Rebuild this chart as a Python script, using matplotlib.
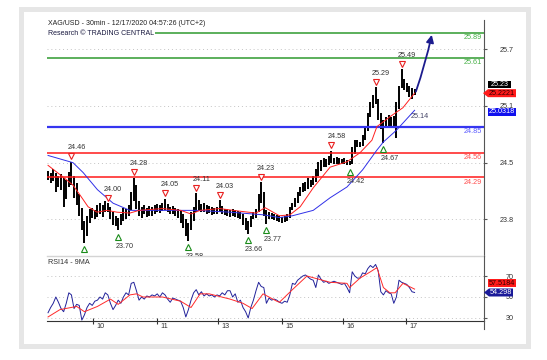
import matplotlib
matplotlib.use('Agg')
import matplotlib.pyplot as plt
from matplotlib.patches import Rectangle, Polygon
from matplotlib.lines import Line2D

plt.rcParams['font.family'] = ['Liberation Sans', 'DejaVu Sans']

W, H = 547, 360

title_text = "XAG/USD - 30min - 12/17/2020 04:57:26 (UTC+2)"
source_text = "Research \u00a9 TRADING CENTRAL"
rsi_title = "RSI14 - 9MA"

# hourly high / low of XAG/USD
high = [24.36, 24.34, 24.38, 24.33, 24.30, 24.32, 24.28, 24.26, 24.35, 24.46,
        24.30, 24.22, 24.10, 23.95, 23.80, 23.86, 23.93, 23.95, 23.92, 23.98,
        24.00, 23.98, 24.02, 24.00, 23.96, 23.90, 23.86, 23.84, 23.88, 23.95,
        23.93, 23.98, 24.12, 24.28, 24.20, 24.02, 23.96, 23.98, 23.95, 23.97,
        23.96, 23.98, 23.99, 23.98, 24.00, 24.05, 23.99, 23.96, 23.97, 23.95,
        23.94, 23.92, 23.88, 23.82, 23.78, 23.90, 23.96, 24.11, 24.04, 23.99,
        24.00, 23.98, 23.97, 23.96, 23.95, 23.96, 24.03, 23.97, 23.94, 23.93,
        23.92, 23.93, 23.92, 23.91, 23.90, 23.88, 23.84, 23.80, 23.86, 23.90,
        23.94, 24.10, 24.23, 24.12, 23.92, 23.90, 23.89, 23.88, 23.87, 23.86,
        23.85, 23.86, 23.88, 23.96, 24.00, 24.06, 24.12, 24.18, 24.22, 24.24,
        24.28, 24.26, 24.30, 24.38, 24.46, 24.48, 24.50, 24.49, 24.52, 24.58,
        24.50, 24.51, 24.50, 24.49, 24.50, 24.48, 24.47, 24.62, 24.70, 24.70,
        24.68, 24.76, 24.86, 25.00, 25.12, 25.20, 25.29, 25.16, 25.00, 24.92,
        24.96, 24.98, 24.96, 24.97, 25.12, 25.30, 25.49, 25.38, 25.34, 25.30,
        25.28, 25.27]
low = [24.26, 24.22, 24.25, 24.12, 24.18, 24.15, 23.96, 24.05, 24.18, 24.20,
       24.06, 23.98, 23.86, 23.70, 23.56, 23.64, 23.78, 23.84, 23.82, 23.85,
       23.88, 23.85, 23.90, 23.90, 23.82, 23.76, 23.75, 23.70, 23.76, 23.80,
       23.82, 23.86, 23.92, 24.02, 23.94, 23.86, 23.84, 23.88, 23.85, 23.86,
       23.86, 23.88, 23.90, 23.89, 23.91, 23.92, 23.90, 23.88, 23.88, 23.86,
       23.84, 23.78, 23.72, 23.64, 23.58, 23.70, 23.80, 23.90, 23.92, 23.90,
       23.90, 23.88, 23.89, 23.87, 23.88, 23.88, 23.90, 23.88, 23.87, 23.86,
       23.85, 23.86, 23.85, 23.84, 23.82, 23.76, 23.70, 23.66, 23.74, 23.82,
       23.84, 23.90, 24.00, 23.86, 23.77, 23.82, 23.82, 23.81, 23.80, 23.79,
       23.78, 23.79, 23.80, 23.84, 23.92, 23.96, 24.00, 24.08, 24.12, 24.14,
       24.16, 24.18, 24.20, 24.24, 24.30, 24.36, 24.40, 24.40, 24.42, 24.45,
       24.44, 24.44, 24.44, 24.44, 24.43, 24.42, 24.42, 24.44, 24.55, 24.62,
       24.62, 24.64, 24.70, 24.80, 24.96, 25.06, 25.10, 24.92, 24.82, 24.67,
       24.84, 24.86, 24.85, 24.86, 24.72, 25.05, 25.28, 25.26, 25.24, 25.18,
       25.16, 25.20]
last_close = 25.23

red_ma_idx = [0, 5.8, 9.6, 12.3, 15.4, 18.8, 22.7, 26.5, 31.5, 35, 44, 51, 55, 58.5,
              66, 74, 80, 83.5, 89, 93, 97, 102, 108.5, 115, 120, 124.6, 126.5,
              131.5, 136.5, 141]
red_ma_val = [24.42, 24.29, 24.20, 24.09, 23.96, 23.90, 23.92, 23.90, 23.89, 23.92,
              23.94, 23.92, 23.88, 23.92, 23.94, 23.91, 23.89, 23.95, 23.86, 23.87,
              23.96, 24.17, 24.40, 24.46, 24.56, 24.70, 24.85, 24.96, 25.06, 25.2221]
blue_ma_idx = [0, 9.6, 13.5, 19, 25, 31.5, 44, 57, 70, 83, 89, 94, 102, 108.5, 115,
               121, 126.5, 129, 134, 141]
blue_ma_val = [24.53, 24.45, 24.34, 24.15, 24.00, 23.92, 23.92, 23.92, 23.90, 23.87,
               23.84, 23.86, 23.92, 24.06, 24.18, 24.37, 24.59, 24.68, 24.81, 25.0318]
trend_label = "25.14"

green_levels = [25.89, 25.61]
blue_levels = [24.85]
red_levels = [24.56, 24.29]

peak_idx = [9, 23, 33, 45, 57, 66, 82, 109, 126, 136]
peak_val = [24.46, 24.00, 24.28, 24.05, 24.11, 24.03, 24.23, 24.58, 25.29, 25.49]
trough_idx = [14, 27, 54, 77, 84, 116, 129]
trough_val = [23.56, 23.70, 23.58, 23.66, 23.77, 24.42, 24.67]
trough_show = [False, True, True, True, True, True, True]

target_from = (141.5, 25.24)
target_to = (147.6, 25.87)

price_ticks = [23.82, 24.45, 25.08, 25.71]
price_tick_labels = ['23.8', '24.5', '25.1', '25.7']

day_pos = [17.3, 41.9, 65.4, 90.0, 113.5, 137.7]
day_labels = ['10', '11', '13', '15', '16', '17']

rsi = [35, 40, 44, 50, 45, 39, 36, 44, 54, 52, 39, 43, 42, 28, 33, 40, 44, 42, 46, 47,
       50, 48, 54, 52, 44, 38, 42, 47, 44, 50, 54, 52, 63, 64, 56, 47, 50, 48, 51, 50,
       52, 51, 53, 50, 54, 52, 48, 45, 49, 48, 47, 46, 40, 31, 38, 47, 54, 57, 52, 55,
       51, 53, 51, 52, 50, 52, 51, 54, 52, 56, 56, 50, 53, 45, 47, 40, 36, 30, 40, 47,
       56, 64, 60, 59, 44, 49, 47, 48, 47, 45, 44, 46, 45, 52, 63, 62, 66, 68, 70, 71,
       69, 67, 66, 59, 71, 67, 64, 65, 63, 64, 65, 64, 63, 62, 63, 59, 54, 74, 70, 68,
       68, 73, 72, 77, 80, 78, 81, 75, 55, 52, 56, 54, 53, 44, 50, 66, 64, 63, 62, 59,
       55, 54.298]
rsi_ma_idx = [0, 4.6, 11, 14, 19, 24, 27, 31.5, 34, 36.5, 44, 51, 55, 58.5, 62, 70,
              75, 78.5, 82.7, 88, 89, 94, 99.6, 108.5, 115, 116, 120, 124, 126.5, 129,
              131.5, 133.5, 136.5, 141]
rsi_ma_val = [31, 38, 41, 36, 41, 48, 43, 52, 53, 50, 50, 46, 40, 53, 53, 48, 44, 39,
              53, 46, 45, 57, 70, 64, 63, 59, 68, 74, 78, 59, 54, 54, 63, 57.5184]
rsi_ticks = [30, 50, 70]

TXT = '#333333'
FS = 5.2

fig = plt.figure(figsize=(W / 100, H / 100), dpi=100)
fig.patch.set_facecolor('white')


def fr(x0, y0, x1, y1):
    return [x0 / W, 1 - y1 / H, (x1 - x0) / W, (y1 - y0) / H]


# outer grey frame
fig.patches.append(Rectangle((20.5 / W, 1 - 345.5 / H), 507 / W, 337 / H,
                             transform=fig.transFigure, fill=False,
                             edgecolor='#e6e6e6', lw=3.6, zorder=0))

ax = fig.add_axes(fr(47, 20, 484, 256))
rs = fig.add_axes(fr(47, 256, 484, 321))
for a in (ax, rs):
    a.set_xlim(-0.4, 167.7)
    a.set_facecolor('none')
    a.spines['top'].set_visible(False)
    a.spines['left'].set_visible(False)
    a.spines['right'].set_color('#555555')
    a.spines['right'].set_linewidth(0.8)
    a.yaxis.tick_right()
    a.tick_params(axis='y', length=2.2, width=0.8, colors='#555555',
                  labelcolor=TXT, labelsize=FS, pad=19.5)
ax.spines['bottom'].set_color('#d4d4d4')
ax.spines['bottom'].set_linewidth(1.0)
rs.spines['bottom'].set_color('#333333')
rs.spines['bottom'].set_linewidth(0.8)

ax.set_ylim(23.413, 26.035)
ax.set_yticks(price_ticks)
ax.set_yticklabels(price_tick_labels)
for l in ax.get_yticklabels():
    l.set_ha('right')
ax.set_xticks([])
for t in price_ticks:
    ax.axhline(t, color='#c4c4c4', lw=0.7, ls=(0, (1, 3)), zorder=1)

# price bars
xs = list(range(len(high)))
ax.vlines(xs, low, high, color='black', lw=1.4, zorder=2)

# levels
for v in green_levels:
    ax.axhline(v, color='#2f9a2f', lw=1.1, zorder=3)
    ax.annotate(f"{v:.2f}", (1, v), xycoords=('axes fraction', 'data'),
                xytext=(-2, -4), textcoords='offset pixels', ha='right', va='center',
                fontsize=FS, color='#46b046', zorder=6)
for v in blue_levels:
    ax.axhline(v, color='#3535f0', lw=1.6, zorder=3)
    ax.annotate(f"{v:.2f}", (1, v), xycoords=('axes fraction', 'data'),
                xytext=(-2, -5), textcoords='offset pixels', ha='right', va='center',
                fontsize=FS, color='#5a5aff', zorder=6)
for v in red_levels:
    ax.axhline(v, color='#ff1a1a', lw=1.1, zorder=3)
    ax.annotate(f"{v:.2f}", (1, v), xycoords=('axes fraction', 'data'),
                xytext=(-2, -5), textcoords='offset pixels', ha='right', va='center',
                fontsize=FS, color='#ff4d4d', zorder=6)

# moving averages
ax.plot(blue_ma_idx, blue_ma_val, color='#3030e8', lw=0.7, zorder=4)
ax.plot(red_ma_idx, red_ma_val, color='#ff2020', lw=0.7, zorder=4)
ax.annotate(trend_label, (blue_ma_idx[-1], blue_ma_val[-1]), xytext=(-4, -6),
            textcoords='offset pixels', ha='left', va='center', fontsize=FS,
            color='#444466', zorder=6)

# pivots
up_shift = matplotlib.transforms.ScaledTranslation(0, 5.5 / 100, fig.dpi_scale_trans)
dn_shift = matplotlib.transforms.ScaledTranslation(0, -6.5 / 100, fig.dpi_scale_trans)
for i, v in zip(peak_idx, peak_val):
    ax.plot(i, v, marker='v', ms=5, mfc='white', mec='#e82020', mew=0.8,
            zorder=5, clip_on=False, transform=ax.transData + up_shift)
    ax.annotate(f"{v:.2f}", (i, v), xytext=(5, 14), textcoords='offset pixels',
                ha='center', va='center', fontsize=FS, color=TXT, zorder=6)
for i, v, s in zip(trough_idx, trough_val, trough_show):
    ax.plot(i, v, marker='^', ms=5, mfc='white', mec='#1a8c1a', mew=0.8,
            zorder=5, transform=ax.transData + dn_shift)
    if s:
        ax.annotate(f"{v:.2f}", (i, v), xytext=(6, -16), textcoords='offset pixels',
                    ha='center', va='center', fontsize=FS, color=TXT, zorder=6,
                    annotation_clip=False, clip_on=True)

# projection arrow
ax.annotate('', xy=target_to, xytext=target_from,
            arrowprops=dict(arrowstyle='-|>', color='#1c1c8e', lw=1.3,
                            mutation_scale=11, shrinkA=0, shrinkB=0,
                            connectionstyle='arc3,rad=0.03'), zorder=6)

# titles
ax.text(1 / W, 1, title_text, transform=ax.transAxes, fontsize=5.0, color='#222222',
        ha='left', va='top')
ax.text(1 / W, 25.89, source_text,
        transform=matplotlib.transforms.blended_transform_factory(ax.transAxes, ax.transData),
        fontsize=5.0, color='#1a1a40', ha='left', va='center', zorder=7,
        bbox=dict(facecolor='white', edgecolor='none', pad=0.6))

# RSI panel
rs.set_ylim(27.14, 89.05)
rs.set_yticks(rsi_ticks)
rs.set_yticklabels([str(t) for t in rsi_ticks])
for l in rs.get_yticklabels():
    l.set_ha('right')
for t in rsi_ticks:
    rs.axhline(t, color='#c4c4c4', lw=0.7, ls=(0, (1, 3)), zorder=1)
rs.plot(range(len(rsi)), rsi, color='#22229a', lw=0.7, zorder=3)
rs.plot(rsi_ma_idx, rsi_ma_val, color='#ff2a2a', lw=0.7, zorder=4)
rs.text(1 / W, 0.95, rsi_title, transform=rs.transAxes, fontsize=FS, color=TXT,
        ha='left', va='top')
rs.set_xticks(day_pos)
rs.set_xticklabels([])
rs.tick_params(axis='x', direction='inout', length=4.5, width=0.8, colors='#333333')
for p, lab in zip(day_pos, day_labels):
    rs.annotate(lab, (p, 0), xycoords=('data', 'axes fraction'), xytext=(3, -6),
                textcoords='offset pixels', ha='left', va='center', fontsize=FS,
                color=TXT, annotation_clip=False)

# axis line extension below RSI panel
fig.lines.append(Line2D([484 / W, 484 / W], [1 - 321 / H, 1 - 329 / H],
                        transform=fig.transFigure, color='#555555', lw=0.8))


def img_y(a, v):
    return H - a.transData.transform((0, v))[1]


def rect_tag(x0, x1, yc, h, fc, text, tc):
    fig.patches.append(Rectangle((x0 / W, 1 - (yc + h / 2) / H), (x1 - x0) / W, h / H,
                                 transform=fig.transFigure, facecolor=fc,
                                 edgecolor='none', zorder=10))
    fig.text((x0 + x1) / 2 / W, 1 - yc / H, text, ha='center', va='center',
             fontsize=FS, color=tc, zorder=11)


def arrow_tag(xp, x1, yc, h, fc, text, tc):
    pts = [(xp, yc), (xp + 5, yc - h / 2), (x1, yc - h / 2), (x1, yc + h / 2), (xp + 5, yc + h / 2)]
    fig.patches.append(Polygon([(x / W, 1 - y / H) for x, y in pts], closed=True,
                               transform=fig.transFigure, facecolor=fc,
                               edgecolor='none', zorder=10))
    fig.text((xp + 5 + x1) / 2 / W, 1 - yc / H, text, ha='center', va='center',
             fontsize=FS, color=tc, zorder=11)


rect_tag(488, 511, img_y(ax, last_close) - 8, 7.5, 'black', f"{last_close:.2f}", 'white')
arrow_tag(483, 516, img_y(ax, red_ma_val[-1]), 8, '#ff1a1a', f"{red_ma_val[-1]:.4f}", '#330000')
rect_tag(488, 516, img_y(ax, blue_ma_val[-1]) + 1.5, 7.5, '#1010ee', f"{blue_ma_val[-1]:.4f}", 'white')
rect_tag(488, 516, img_y(rs, rsi_ma_val[-1]) - 6, 7.5, '#ff1a1a', f"{rsi_ma_val[-1]:.4f}", '#330000')
arrow_tag(484, 513, img_y(rs, rsi[-1]), 8, '#1a1a99', f"{rsi[-1]:.3f}", 'white')

fig.savefig('out.png', dpi=100)
